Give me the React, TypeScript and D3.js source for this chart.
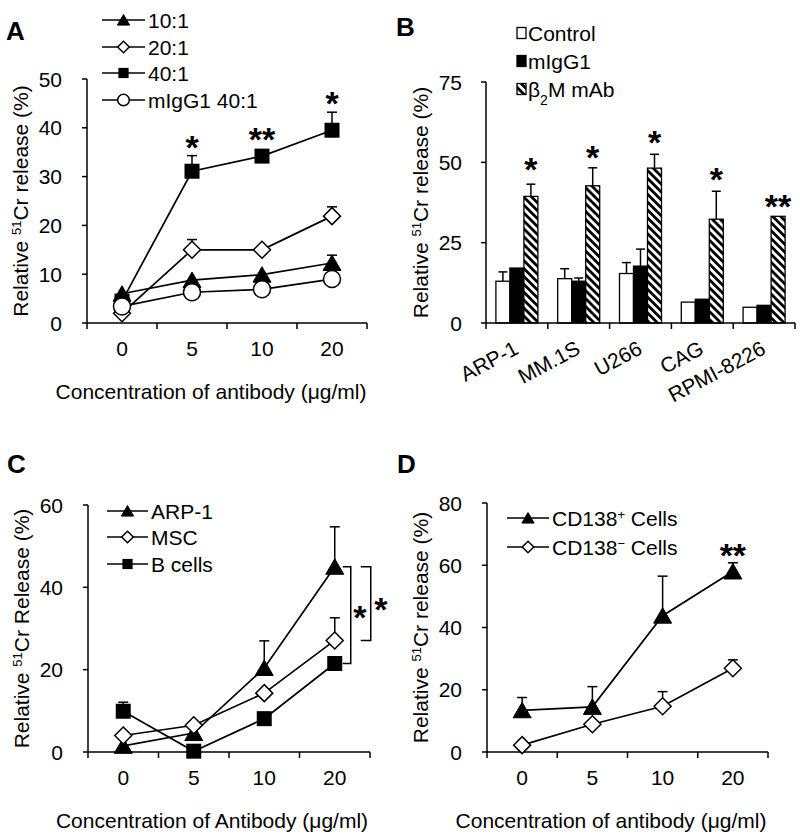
import React from 'react';
import * as d3 from 'd3';

const FONT = "'Liberation Sans', Arial, Helvetica, sans-serif";
const FS = 21;

// ---------- shared categories ----------
const doseCats = ['0', '5', '10', '20'];

// ---------- Panel A ----------
const aNames = ['10:1', '20:1', '40:1', 'mIgG1 40:1'];
const aMarkers = ['tri', 'dia', 'sq', 'circ'];
const a10 = [6.0, 8.8, 9.9, 12.3];
const a10Err = [0, 0, 0, 1.6];
const a20 = [2.0, 15.0, 15.0, 21.9];
const a20Err = [0, 2.1, 0, 1.9];
const a40 = [4.5, 31.1, 34.2, 39.5];
const a40Err = [0, 3.2, 0, 3.7];
const aIgG = [3.4, 6.3, 6.9, 9.0];
const aIgGErr = [0, 0, 0, 0];
const aTicks = [0, 10, 20, 30, 40, 50];
const aStars = [
  { cat: '5', v: 37.5, t: '*' },
  { cat: '10', v: 39, t: '**' },
  { cat: '20', v: 46.5, t: '*' },
];

// ---------- Panel B ----------
const bCells = ['ARP-1', 'MM.1S', 'U266', 'CAG', 'RPMI-8226'];
const bSeries = ['Control', 'mIgG1', 'b2m'];
const bControl = [13.0, 13.8, 15.4, 6.5, 4.9];
const bControlErr = [2.9, 3.1, 3.4, 0, 0];
const bIgG = [17.1, 13.0, 17.7, 7.4, 5.5];
const bIgGErr = [0, 1.0, 5.3, 0, 0];
const bB2m = [39.4, 42.7, 48.2, 32.3, 33.2];
const bB2mErr = [3.8, 5.6, 4.3, 8.7, 0];
const bTicks = [0, 25, 50, 75];
const bStars = [
  { cell: 'ARP-1', v: 49.8, t: '*' },
  { cell: 'MM.1S', v: 53.8, t: '*' },
  { cell: 'U266', v: 58.2, t: '*' },
  { cell: 'CAG', v: 46.7, t: '*' },
  { cell: 'RPMI-8226', v: 38.3, t: '**' },
];

// ---------- Panel C ----------
const cNames = ['ARP-1', 'MSC', 'B cells'];
const cMarkers = ['tri', 'dia', 'sq'];
const cArp = [1.5, 4.6, 20.4, 45.0];
const cArpErr = [0, 0, 6.6, 9.7];
const cMsc = [4.0, 6.5, 14.3, 27.1];
const cMscErr = [0, 0, 0, 5.5];
const cB = [9.9, 0.2, 8.1, 21.5];
const cBErr = [2.2, 0, 0, 0];
const cTicks = [0, 20, 40, 60];

// ---------- Panel D ----------
const dMarkers = ['tri', 'dia'];
const dPos = [13.4, 14.5, 43.8, 58.0];
const dPosErr = [4.1, 6.5, 12.7, 2.8];
const dNeg = [2.2, 8.9, 14.7, 26.9];
const dNegErr = [0, 0, 4.7, 2.7];
const dTicks = [0, 20, 40, 60, 80];
const dStars = [{ cat: '20', v: 65.5, t: '**' }];

type Series = { values: number[]; errs: number[]; marker: string };

function Marker({ kind, x, y, s = 1 }: { kind: string; x: number; y: number; s?: number }) {
  if (kind === 'tri') {
    return (
      <path
        d={`M${x},${y - 8 * s}L${x + 9 * s},${y + 7.5 * s}L${x - 9 * s},${y + 7.5 * s}Z`}
        fill="#000"
        stroke="#000"
        strokeWidth={1}
      />
    );
  }
  if (kind === 'sq') {
    return <rect x={x - 7.5 * s} y={y - 7.5 * s} width={15 * s} height={15 * s} fill="#000" />;
  }
  if (kind === 'dia') {
    return (
      <path
        d={`M${x},${y - 8.5 * s}L${x + 8.5 * s},${y}L${x},${y + 8.5 * s}L${x - 8.5 * s},${y}Z`}
        fill="#fff"
        stroke="#000"
        strokeWidth={1.5}
      />
    );
  }
  return <circle cx={x} cy={y} r={8.5 * s} fill="#fff" stroke="#000" strokeWidth={1.5} />;
}

function Star({ x, y, t }: { x: number; y: number; t: string }) {
  return (
    <text x={x} y={y + 18.5} textAnchor="middle" fontFamily={FONT} fontWeight="bold" fontSize={34}>
      {t}
    </text>
  );
}

function YTitle({ x, y, word }: { x: number; y: number; word: string }) {
  return (
    <text transform={`translate(${x},${y}) rotate(-90)`} textAnchor="middle" fontFamily={FONT} fontSize={FS}>
      Relative <tspan baselineShift="super" fontSize={13}>51</tspan>Cr {word} (%)
    </text>
  );
}

function LinePanel(props: {
  x0: number; x1: number; yTop: number; yBot: number; yMax: number; ticks: number[];
  series: Series[]; xTitle: string; yWord: string;
}) {
  const { x0, x1, yTop, yBot, yMax, ticks, series, xTitle, yWord } = props;
  const x = d3.scaleBand<string>().domain(doseCats).range([x0, x1]).padding(0);
  const y = d3.scaleLinear().domain([0, yMax]).range([yBot, yTop]);
  const cx = (c: string) => (x(c) as number) + x.bandwidth() / 2;
  const line = d3.line<number>().x((_, i) => cx(doseCats[i])).y((d) => y(d));
  const bounds = [...doseCats.map((c) => x(c) as number), x1];
  return (
    <g>
      {/* axes */}
      <line x1={x0} x2={x0} y1={yTop} y2={yBot} stroke="#000" strokeWidth={1.5} />
      <line x1={x0} x2={x1} y1={yBot} y2={yBot} stroke="#000" strokeWidth={1.5} />
      {ticks.map((t) => (
        <g key={t}>
          <line x1={x0 - 5} x2={x0} y1={y(t)} y2={y(t)} stroke="#000" strokeWidth={1.5} />
          <text x={x0 - 25} y={y(t) + 7.5} textAnchor="end" fontFamily={FONT} fontSize={FS}>{t}</text>
        </g>
      ))}
      {bounds.map((b, i) => (
        <line key={i} x1={b} x2={b} y1={yBot} y2={yBot + 6} stroke="#000" strokeWidth={1.5} />
      ))}
      {doseCats.map((c) => (
        <text key={c} x={cx(c)} y={yBot + 33} textAnchor="middle" fontFamily={FONT} fontSize={FS}>{c}</text>
      ))}
      <text x={x0 + 124} y={yBot + 76} textAnchor="middle" fontFamily={FONT} fontSize={FS}>{xTitle}</text>
      <YTitle x={x0 - 59} y={(yTop + yBot) / 2} word={yWord} />
      {/* lines */}
      {series.map((s, i) => (
        <path key={i} d={line(s.values) as string} fill="none" stroke="#000" strokeWidth={1.7} />
      ))}
      {/* error bars */}
      {series.map((s, i) =>
        s.values.map((v, j) =>
          s.errs[j] > 0 ? (
            <g key={`${i}-${j}`}>
              <line x1={cx(doseCats[j])} x2={cx(doseCats[j])} y1={y(v)} y2={y(v + s.errs[j])} stroke="#000" strokeWidth={1.5} />
              <line x1={cx(doseCats[j]) - 5} x2={cx(doseCats[j]) + 5} y1={y(v + s.errs[j])} y2={y(v + s.errs[j])} stroke="#000" strokeWidth={1.5} />
            </g>
          ) : null
        )
      )}
      {/* markers */}
      {series.map((s, i) =>
        s.values.map((v, j) => <Marker key={`${i}-${j}`} kind={s.marker} x={cx(doseCats[j])} y={y(v)} />)
      )}
    </g>
  );
}

function LegendRow({ x0, x1, y, kind, label }: { x0: number; x1: number; y: number; kind: string; label: React.ReactNode }) {
  return (
    <g>
      <line x1={x0} x2={x1} y1={y} y2={y} stroke="#000" strokeWidth={1.7} />
      <Marker kind={kind} x={(x0 + x1) / 2} y={y} s={0.68} />
      <text x={x1 + 3} y={y + 7.5} fontFamily={FONT} fontSize={FS}>{label}</text>
    </g>
  );
}

function PanelA() {
  const x0 = 87, x1 = 367, yTop = 79, yBot = 323, yMax = 50;
  const series: Series[] = [
    { values: a10, errs: a10Err, marker: aMarkers[0] },
    { values: a20, errs: a20Err, marker: aMarkers[1] },
    { values: a40, errs: a40Err, marker: aMarkers[2] },
    { values: aIgG, errs: aIgGErr, marker: aMarkers[3] },
  ];
  const x = d3.scaleBand<string>().domain(doseCats).range([x0, x1]);
  const y = d3.scaleLinear().domain([0, yMax]).range([yBot, yTop]);
  const legY = [20, 47, 73, 100];
  return (
    <g>
      <LinePanel x0={x0} x1={x1} yTop={yTop} yBot={yBot} yMax={yMax} ticks={aTicks} series={series}
        xTitle="Concentration of antibody (μg/ml)" yWord="release" />
      {aStars.map((s, i) => (
        <Star key={i} x={(x(s.cat) as number) + x.bandwidth() / 2} y={y(s.v)} t={s.t} />
      ))}
      {aNames.map((n, i) => (
        <LegendRow key={n} x0={102} x1={145} y={legY[i]} kind={aMarkers[i]} label={n} />
      ))}
      <text x={6} y={40} fontFamily={FONT} fontWeight="bold" fontSize={26}>A</text>
    </g>
  );
}

function PanelB() {
  const x0 = 486, x1 = 795, yTop = 82, yBot = 323, yMax = 75;
  const x = d3.scaleBand<string>().domain(bCells).range([x0, x1]).padding(0);
  const bw = x.bandwidth();
  const xi = d3.scaleBand<string>().domain(bSeries).range([bw / 2 - 21, bw / 2 + 21]).padding(0);
  const y = d3.scaleLinear().domain([0, yMax]).range([yBot, yTop]);
  const vals = [bControl, bIgG, bB2m];
  const errs = [bControlErr, bIgGErr, bB2mErr];
  const fills = ['#fff', '#000', 'url(#hatch)'];
  const bounds = [...bCells.map((c) => x(c) as number), x1];
  const legLabels: React.ReactNode[] = [
    'Control',
    'mIgG1',
    <>β<tspan baselineShift="sub" fontSize={14}>2</tspan>M mAb</>,
  ];
  const legY = [33, 61, 89];
  return (
    <g>
      <defs>
        <pattern id="hatch" patternUnits="userSpaceOnUse" width={5.6} height={5.6} patternTransform="rotate(-45)">
          <rect width={5.6} height={5.6} fill="#fff" />
          <line x1={1.4} x2={1.4} y1={0} y2={5.6} stroke="#000" strokeWidth={2.8} />
        </pattern>
      </defs>
      {bCells.map((c, gi) =>
        bSeries.map((s, si) => {
          const v = vals[si][gi];
          const bx = (x(c) as number) + (xi(s) as number);
          return (
            <rect key={`${c}-${s}`} x={bx} y={y(v)} width={xi.bandwidth()} height={yBot - y(v)}
              fill={fills[si]} stroke="#000" strokeWidth={1.3} />
          );
        })
      )}
      {bCells.map((c, gi) =>
        bSeries.map((s, si) => {
          const v = vals[si][gi];
          const e = errs[si][gi];
          if (!(e > 0)) return null;
          const bx = (x(c) as number) + (xi(s) as number) + xi.bandwidth() / 2;
          return (
            <g key={`e-${c}-${s}`}>
              <line x1={bx} x2={bx} y1={y(v)} y2={y(v + e)} stroke="#000" strokeWidth={1.5} />
              <line x1={bx - 4.5} x2={bx + 4.5} y1={y(v + e)} y2={y(v + e)} stroke="#000" strokeWidth={1.5} />
            </g>
          );
        })
      )}
      <line x1={x0} x2={x0} y1={yTop} y2={yBot} stroke="#000" strokeWidth={1.5} />
      <line x1={x0} x2={x1} y1={yBot} y2={yBot} stroke="#000" strokeWidth={1.5} />
      {bTicks.map((t) => (
        <g key={t}>
          <line x1={x0 - 5} x2={x0} y1={y(t)} y2={y(t)} stroke="#000" strokeWidth={1.5} />
          <text x={x0 - 24} y={y(t) + 7.5} textAnchor="end" fontFamily={FONT} fontSize={FS}>{t}</text>
        </g>
      ))}
      {bounds.map((b, i) => (
        <line key={i} x1={b} x2={b} y1={yBot} y2={yBot + 6} stroke="#000" strokeWidth={1.5} />
      ))}
      {bCells.map((c) => (
        <text key={c} transform={`translate(${(x(c) as number) + bw / 2 + 3},${yBot + 30}) rotate(-28)`}
          textAnchor="end" fontFamily={FONT} fontSize={FS}>{c}</text>
      ))}
      <YTitle x={x0 - 58} y={(yTop + yBot) / 2} word="release" />
      {bStars.map((s, i) => (
        <Star key={i} x={(x(s.cell) as number) + (xi('b2m') as number) + xi.bandwidth() / 2} y={y(s.v)} t={s.t} />
      ))}
      {bSeries.map((s, i) => (
        <g key={s}>
          <rect x={517} y={legY[i] - 5.5} width={9} height={11} fill={fills[i]} stroke="#000" strokeWidth={1.3} />
          <text x={528} y={legY[i] + 7.5} fontFamily={FONT} fontSize={FS}>{legLabels[i]}</text>
        </g>
      ))}
      <text x={396} y={36} fontFamily={FONT} fontWeight="bold" fontSize={26}>B</text>
    </g>
  );
}

function PanelC() {
  const x0 = 88, x1 = 370, yTop = 505, yBot = 752, yMax = 60;
  const series: Series[] = [
    { values: cArp, errs: cArpErr, marker: cMarkers[0] },
    { values: cMsc, errs: cMscErr, marker: cMarkers[1] },
    { values: cB, errs: cBErr, marker: cMarkers[2] },
  ];
  const x = d3.scaleBand<string>().domain(doseCats).range([x0, x1]);
  const y = d3.scaleLinear().domain([0, yMax]).range([yBot, yTop]);
  const c20 = (x('20') as number) + x.bandwidth() / 2;
  const legY = [511, 537, 564];
  const bracket = (bx: number, armX: number, top: number, bot: number) =>
    `M${armX},${y(top)}H${bx}V${y(bot)}H${armX}`;
  return (
    <g>
      <LinePanel x0={x0} x1={x1} yTop={yTop} yBot={yBot} yMax={yMax} ticks={cTicks} series={series}
        xTitle="Concentration of Antibody (μg/ml)" yWord="Release" />
      <path d={bracket(c20 + 16, c20 + 8, cArp[3], cB[3])} fill="none" stroke="#000" strokeWidth={1.5} />
      <path d={bracket(c20 + 36, c20 + 26, cArp[3], cMsc[3])} fill="none" stroke="#000" strokeWidth={1.5} />
      <Star x={c20 + 25} y={y((cArp[3] + cB[3]) / 2) - 5} t="*" />
      <Star x={c20 + 46} y={y((cArp[3] + cMsc[3]) / 2) - 1} t="*" />
      {cNames.map((n, i) => (
        <LegendRow key={n} x0={107} x1={148} y={legY[i]} kind={cMarkers[i]} label={n} />
      ))}
      <text x={7} y={473} fontFamily={FONT} fontWeight="bold" fontSize={26}>C</text>
    </g>
  );
}

function PanelD() {
  const x0 = 487, x1 = 768, yTop = 503, yBot = 752, yMax = 80;
  const series: Series[] = [
    { values: dPos, errs: dPosErr, marker: dMarkers[0] },
    { values: dNeg, errs: dNegErr, marker: dMarkers[1] },
  ];
  const x = d3.scaleBand<string>().domain(doseCats).range([x0, x1]);
  const y = d3.scaleLinear().domain([0, yMax]).range([yBot, yTop]);
  return (
    <g>
      <LinePanel x0={x0} x1={x1} yTop={yTop} yBot={yBot} yMax={yMax} ticks={dTicks} series={series}
        xTitle="Concentration of antibody (μg/ml)" yWord="release" />
      {dStars.map((s, i) => (
        <Star key={i} x={(x(s.cat) as number) + x.bandwidth() / 2} y={y(s.v)} t={s.t} />
      ))}
      <LegendRow x0={507} x1={549} y={518} kind={dMarkers[0]}
        label={<>CD138<tspan baselineShift="super" fontSize={13}>+</tspan> Cells</>} />
      <LegendRow x0={507} x1={549} y={547} kind={dMarkers[1]}
        label={<>CD138<tspan baselineShift="super" fontSize={13}>−</tspan> Cells</>} />
      <text x={397} y={473} fontFamily={FONT} fontWeight="bold" fontSize={26}>D</text>
    </g>
  );
}

export default function App() {
  return (
    <svg width={800} height={836} style={{ position: 'absolute', left: 0, top: 0, background: '#fff' }}>
      <rect width={800} height={836} fill="#fff" />
      <PanelA />
      <PanelB />
      <PanelC />
      <PanelD />
    </svg>
  );
}
